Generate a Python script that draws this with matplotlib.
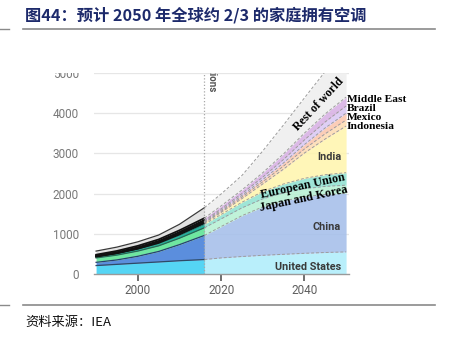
import matplotlib
matplotlib.use("Agg")
import matplotlib.pyplot as plt
import numpy as np
from matplotlib.patches import Rectangle
from matplotlib.lines import Line2D

# ---------------- data (million units of AC, stacked) ----------------
regions = ["United States", "China", "Japan and Korea", "European Union", "India",
           "Indonesia", "Mexico", "Brazil", "Middle East", "Rest of world"]

years_hist = [1990, 1995, 2000, 2005, 2010, 2016]
us_hist = [210, 240, 270, 300, 330, 360]
china_hist = [80, 110, 170, 260, 400, 600]
jk_hist = [110, 120, 130, 140, 160, 190]
eu_hist = [30, 40, 50, 60, 75, 90]
india_hist = [5, 7, 10, 15, 20, 30]
indonesia_hist = [3, 5, 7, 9, 12, 15]
mexico_hist = [5, 7, 10, 13, 16, 20]
brazil_hist = [7, 10, 13, 17, 21, 25]
me_hist = [30, 35, 40, 45, 52, 60]
row_hist = [90, 95, 100, 110, 150, 260]

years_proj = [2016, 2020, 2025, 2030, 2035, 2040, 2045, 2050]
us_proj = [360, 400, 435, 465, 490, 515, 535, 550]
china_proj = [600, 780, 1015, 1205, 1330, 1405, 1445, 1460]
jk_proj = [190, 190, 195, 200, 200, 200, 200, 200]
eu_proj = [90, 110, 140, 180, 220, 260, 290, 310]
india_proj = [30, 50, 90, 190, 370, 630, 890, 1160]
indonesia_proj = [15, 25, 40, 55, 75, 100, 130, 150]
mexico_proj = [20, 30, 40, 55, 80, 110, 145, 170]
brazil_proj = [25, 35, 45, 60, 85, 115, 150, 180]
me_proj = [60, 75, 90, 110, 140, 170, 200, 220]
row_proj = [260, 295, 360, 540, 720, 875, 1055, 1300]

y_ticks = [0, 1000, 2000, 3000, 4000, 5000]
x_ticks = [2000, 2020, 2040]

title = "图44：预计 2050 年全球约 2/3 的家庭拥有空调"
source = "资料来源：IEA"

# ---------------- styling ----------------
hist_colors = ["#55d5f4", "#5b8edd", "#6fe6a0", "#22b3a0", "#1a1a1a",
               "#241c26", "#2e2430", "#1e1e1e", "#141014", "#e2e2e2"]
hist_lines = ["#2d4a66", "#2a3f70", "#2a6a50", "#1d9d8c", "#111111",
              "#111111", "#111111", "#111111", "#111111", "#3a3a3a"]
proj_colors = ["#b0edfb", "#a5bfea", "#b8f1d4", "#92e2d2", "#fff5ae",
               "#fddcb2", "#fbc6ad", "#dac9f4", "#d8b1e4", "#efefef"]

W, H = 454, 343
fig = plt.figure(figsize=(W / 100, H / 100), dpi=100)
fig.patch.set_facecolor("white")

ax_left, ax_right, ax_bottom, ax_top = 94, 348.6, 274, 71
ax = fig.add_axes([ax_left / W, 1 - ax_bottom / H, (ax_right - ax_left) / W,
                   (ax_bottom - ax_top) / H])
ax.set_xlim(1989.5, 2050.6)
ax.set_ylim(0, 5050)
for s in ["left", "right", "top"]:
    ax.spines[s].set_visible(False)
ax.spines["bottom"].set_color("#9a9a9a")
ax.spines["bottom"].set_linewidth(1.0)

for v in y_ticks[1:]:
    ax.axhline(v, color="#e6e6e6", lw=0.9, zorder=1)

hist = [us_hist, china_hist, jk_hist, eu_hist, india_hist, indonesia_hist,
        mexico_hist, brazil_hist, me_hist, row_hist]
proj = [us_proj, china_proj, jk_proj, eu_proj, india_proj, indonesia_proj,
        mexico_proj, brazil_proj, me_proj, row_proj]

low = np.zeros(len(years_hist))
for i, s in enumerate(hist):
    up = low + np.array(s, float)
    ax.fill_between(years_hist, low, up, color=hist_colors[i], lw=0, zorder=2)
    lw = 1.3 if i in (4, 5, 6, 7, 8) else 0.9
    ax.plot(years_hist, up, color=hist_lines[i], lw=lw, zorder=3)
    low = up

low = np.zeros(len(years_proj))
for i, s in enumerate(proj):
    up = low + np.array(s, float)
    ax.fill_between(years_proj, low, up, color=proj_colors[i], lw=0, alpha=0.88, zorder=2)
    ax.plot(years_proj, up, color="#9c9c9c", lw=0.7, ls=(0, (3, 2)), zorder=3)
    low = up

ax.axvline(2016, color="#a8a8a8", lw=0.9, ls=(0, (1, 1.6)), zorder=4)

ax.set_yticks(y_ticks)
ax.set_yticklabels([str(v) for v in y_ticks])
ax.set_xticks(x_ticks)
ax.set_xticklabels([str(v) for v in x_ticks])
ax.tick_params(axis="y", length=0, pad=11, labelsize=8.5, labelcolor="#787878")
ax.tick_params(axis="x", length=5, width=1.2, color="#555555", pad=2,
               labelsize=8.5, labelcolor="#5e5e5e")
for lab in ax.get_xticklabels() + ax.get_yticklabels():
    lab.set_family("Roboto")

# in-chart labels
serif = dict(family="Liberation Serif", weight="bold", color="black")
ax.text(2043.4, 4230, "Rest of world", rotation=47, rotation_mode="anchor",
        ha="center", va="center", fontsize=8.5, zorder=6, **serif)
ax.text(2039.5, 2190, "European Union", rotation=12, rotation_mode="anchor",
        ha="center", va="center", fontsize=8.7, zorder=6, **serif)
ax.text(2039.8, 1880, "Japan and Korea", rotation=12, rotation_mode="anchor",
        ha="center", va="center", fontsize=8.7, zorder=6, **serif)
sans = dict(family="Roboto", weight="bold", color="#3a3a3a", zorder=6)
ax.text(2048.9, 2910, "India", ha="right", va="center", fontsize=7.8, **sans)
ax.text(2048.6, 1170, "China", ha="right", va="center", fontsize=7.8, **sans)
ax.text(2048.9, 180, "United States", ha="right", va="center", fontsize=7.8, **sans)
for name, yv in [("Middle East", 4353), ("Brazil", 4129), ("Mexico", 3888),
                 ("Indonesia", 3664)]:
    ax.text(2050.2, yv, name, ha="left", va="center", fontsize=8.2,
            clip_on=False, zorder=6, **serif)

ax.text(2016.45, (274 - 92) / (274 - 71), "Projections",
        transform=ax.get_xaxis_transform(), rotation=270, ha="left", va="bottom",
        fontsize=7, weight="bold", color="#555555", family="Roboto")

# white cover (original screenshot was cropped at the top)
fig.add_artist(Rectangle((38 / W, 1 - 73 / H), 330 / W, 36 / H,
                         transform=fig.transFigure, facecolor="white",
                         edgecolor="none", zorder=10))

# title, rules and source
fig.text(25 / W, 1 - 15 / H, title, family=["Noto Sans CJK SC", "DejaVu Sans"],
         weight="bold", fontsize=11.7, color="#1d2a6b", va="center", ha="left")
for yy in (28.5, 305):
    fig.add_artist(Line2D([23 / W, 435 / W], [1 - yy / H] * 2, color="#8a8a8a",
                          lw=1.2, transform=fig.transFigure))
    fig.add_artist(Line2D([0, 9 / W], [1 - yy / H] * 2, color="#8a8a8a",
                          lw=1.0, transform=fig.transFigure))
fig.text(25 / W, 1 - 322 / H, source, family=["Noto Sans CJK SC", "DejaVu Sans"],
         fontsize=9.5, color="#111111", va="center", ha="left")

fig.savefig("out.png", dpi=100)
